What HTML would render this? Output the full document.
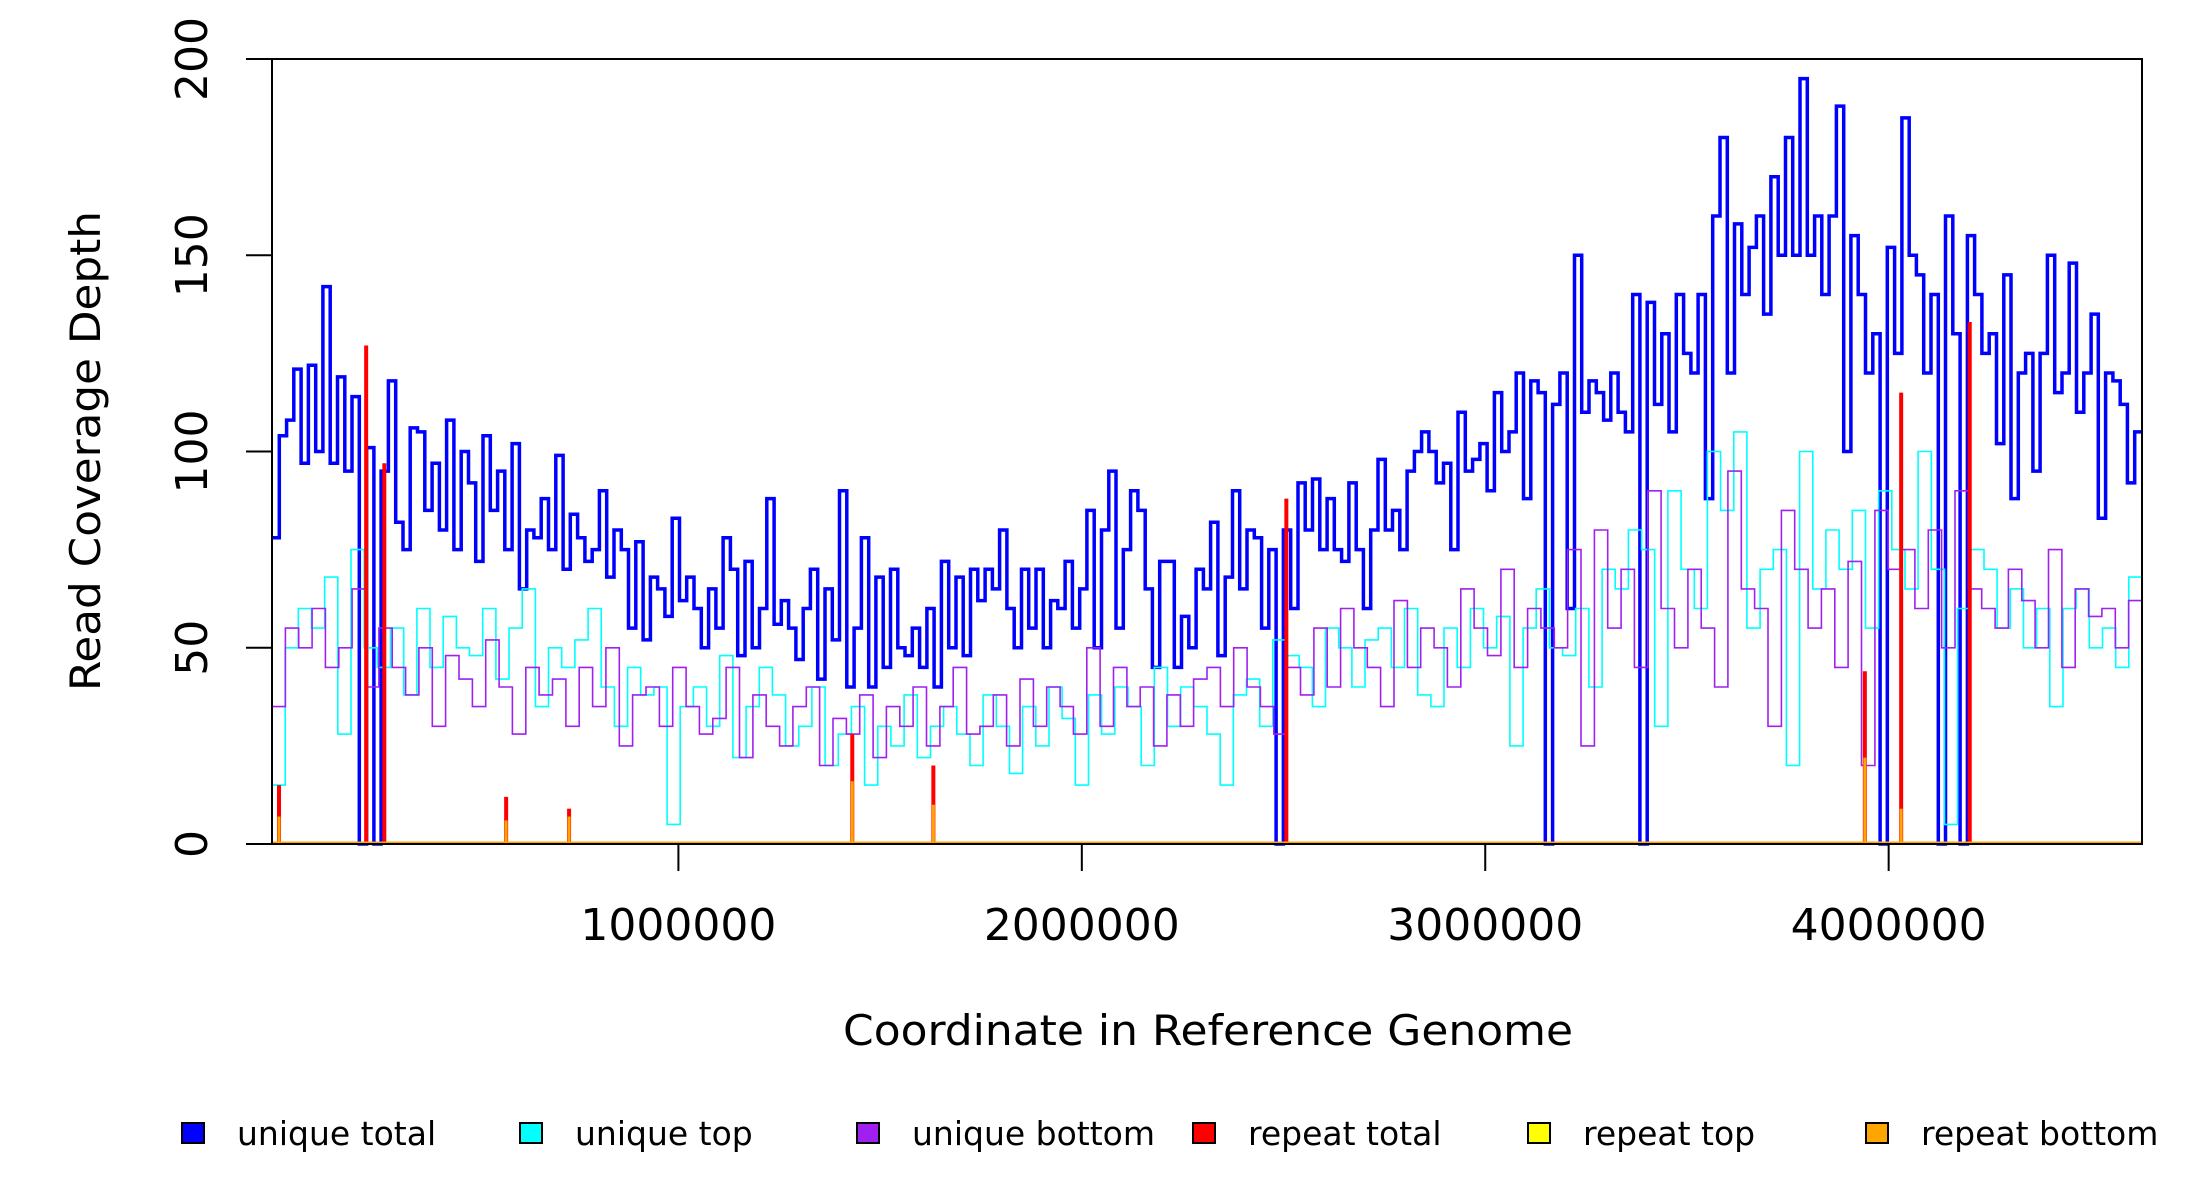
<!DOCTYPE html>
<html><head><meta charset="utf-8"><style>
html,body{margin:0;padding:0;background:#fff;}
svg{display:block;font-family:"DejaVu Sans","Liberation Sans",sans-serif;}
</style></head>
<body>
<svg id="chart" width="2200" height="1200" viewBox="0 0 2200 1200" xmlns="http://www.w3.org/2000/svg">
<rect width="2200" height="1200" fill="#fff"/>
<g id="series"></g>
<rect x="272" y="59" width="1870" height="785" fill="none" stroke="#000" stroke-width="2"/>
<g id="axes"></g>
<text transform="translate(100,451) rotate(-90)" text-anchor="middle" font-size="42" textLength="480" lengthAdjust="spacingAndGlyphs">Read Coverage Depth</text>
<text x="1208" y="1045" text-anchor="middle" font-size="42" textLength="730" lengthAdjust="spacingAndGlyphs">Coordinate in Reference Genome</text>
<g id="legend"></g>
</svg>
<script>
const genomeLen = 4650000;
const yTicks = [0, 50, 100, 150, 200];
const xTicks = [1000000, 2000000, 3000000, 4000000];
const xTickLabels = ["1000000", "2000000", "3000000", "4000000"];
const uniqueTotal = [78,104,108,121,97,122,100,142,97,119,95,114,0,101,0,95,118,82,75,106,105,85,97,80,108,75,100,92,72,104,85,95,75,102,65,80,78,88,75,99,70,84,78,72,75,90,68,80,75,55,77,52,68,65,58,83,62,68,60,50,65,55,78,70,48,72,50,60,88,56,62,55,47,60,70,42,65,52,90,40,55,78,40,68,45,70,50,48,55,45,60,40,72,50,68,48,70,62,70,65,80,60,50,70,55,70,50,62,60,72,55,65,85,50,80,95,55,75,90,85,65,45,72,72,45,58,50,70,65,82,48,68,90,65,80,78,55,75,0,80,60,92,80,93,75,88,75,72,92,75,60,80,98,80,85,75,95,100,105,100,92,97,75,110,95,98,102,90,115,100,105,120,88,118,115,0,112,120,60,150,110,118,115,108,120,110,105,140,0,138,112,130,105,140,125,120,140,88,160,180,120,158,140,152,160,135,170,150,180,150,195,150,160,140,160,188,100,155,140,120,130,0,152,125,185,150,145,120,140,0,160,130,0,155,140,125,130,102,145,88,120,125,95,125,150,115,120,148,110,120,135,83,120,118,112,92,105];
const uniqueTop = [15,50,60,55,68,28,75,50,45,55,38,60,45,58,50,48,60,42,55,65,35,50,45,52,60,40,30,45,38,40,5,35,40,30,48,22,35,45,38,25,30,40,20,28,35,15,30,25,38,22,30,35,28,20,38,30,18,35,25,40,32,15,38,28,40,35,20,45,30,40,35,28,15,38,42,30,52,48,45,35,55,50,40,52,55,45,60,38,35,55,45,60,50,58,25,55,65,50,48,60,40,70,65,80,75,30,90,70,60,100,85,105,55,70,75,20,100,65,80,70,85,55,90,75,65,100,70,5,60,75,70,55,65,50,60,35,60,65,50,55,45,68];
const uniqueBottom = [35,55,50,60,45,50,65,40,55,45,38,50,30,48,42,35,52,40,28,45,38,42,30,45,35,50,25,38,40,30,45,35,28,32,45,22,38,30,25,35,40,20,32,28,38,22,35,30,40,25,35,45,28,30,38,25,42,30,40,35,28,50,30,45,35,40,25,38,30,42,45,35,50,40,35,28,45,38,55,40,60,50,45,35,62,45,55,50,40,65,55,48,70,45,60,55,50,75,25,80,55,70,45,90,60,50,70,55,40,95,65,60,30,85,70,55,65,45,72,20,85,70,75,60,80,50,90,65,60,55,70,62,50,75,45,65,58,60,50,62];
const repeatPos = [10000, 226000, 271000, 573000, 729000, 1431000, 1632000, 2507000, 3941000, 4031000, 4201000];
const repeatTotal = [15, 127, 97, 12, 9, 28, 20, 88, 44, 115, 133];
const repeatBottom = [7, 0, 0, 6, 7, 16, 10, 0, 22, 9, 0];

const L=272,R=2142,T=59,B=844;
const xMin=-7400, xMax=4628000;
function X(v){return L+(v-xMin)/(xMax-xMin)*(R-L);}
function Y(v){return B-v/200*(B-T);}
const NS='http://www.w3.org/2000/svg';
function mk(tag,parent){const e=document.createElementNS(NS,tag);parent.appendChild(e);return e;}
const sg=document.getElementById('series');
function stepPath(vals){
  const w=(xMax-xMin)/vals.length;let d='';
  vals.forEach((v,i)=>{const x0=X(xMin+i*w),x1=X(xMin+(i+1)*w),y=Y(v);
    d+=(i===0?'M'+x0.toFixed(1)+' '+y.toFixed(1):' V'+y.toFixed(1))+' H'+x1.toFixed(1);});
  return d;
}
function stepLine(vals,color,w,name){
  const p=mk('path',sg);
  
  
  p.setAttribute('d',stepPath(vals));p.setAttribute('fill','none');
  p.setAttribute('stroke',color);p.setAttribute('stroke-width',w);
}
stepLine(uniqueTotal,'#0000ff',3.5,'unique-total-line');
stepLine(uniqueTop,'#00ffff',1.6,'unique-top-line');
stepLine(uniqueBottom,'#a020f0',1.6,'unique-bottom-line');
function spikes(vals,color,w,name){
  vals.forEach((v,i)=>{ if(v<=0) return;
    const l=mk('line',sg);
    
    
    const x=X(repeatPos[i]);
    l.setAttribute('x1',x);l.setAttribute('x2',x);l.setAttribute('y1',Y(0));l.setAttribute('y2',Y(v));
    l.setAttribute('stroke',color);l.setAttribute('stroke-width',w);
  });
}
spikes(repeatTotal,'#ff0000',4,'repeat-total-spike');
spikes(repeatBottom,'#ffa500',3,'repeat-bottom-spike');
const base=mk('line',sg);


base.setAttribute('x1',L);base.setAttribute('x2',R);base.setAttribute('y1',B-1);base.setAttribute('y2',B-1);
base.setAttribute('stroke','#ffa500');base.setAttribute('stroke-width',3);

const ag=document.getElementById('axes');
yTicks.forEach(v=>{
  const t=mk('line',ag);
  
  
  t.setAttribute('x1',246);t.setAttribute('x2',L);t.setAttribute('y1',Y(v));t.setAttribute('y2',Y(v));
  t.setAttribute('stroke','#000');t.setAttribute('stroke-width',2);
  const tx=mk('text',ag);
  
  
  tx.setAttribute('transform','translate(207,'+Y(v)+') rotate(-90)');
  tx.setAttribute('text-anchor','middle');tx.setAttribute('font-size','44');
  tx.textContent=String(v);
});
xTicks.forEach((v,i)=>{
  const t=mk('line',ag);
  
  
  t.setAttribute('x1',X(v));t.setAttribute('x2',X(v));t.setAttribute('y1',B);t.setAttribute('y2',B+27);
  t.setAttribute('stroke','#000');t.setAttribute('stroke-width',2);
  const tx=mk('text',ag);
  
  
  tx.setAttribute('x',X(v));tx.setAttribute('y',940);
  tx.setAttribute('text-anchor','middle');tx.setAttribute('font-size','44');
  tx.setAttribute('textLength','196');tx.setAttribute('lengthAdjust','spacingAndGlyphs');
  tx.textContent=xTickLabels[i];
});
const legendNames=['unique total','unique top','unique bottom','repeat total','repeat top','repeat bottom'];
const legendColors=['#0000ff','#00ffff','#a020f0','#ff0000','#ffff00','#ffa500'];
const legendX=[182,520,857,1193,1528,1866];
const lg=document.getElementById('legend');
legendNames.forEach((n,i)=>{
  const g=mk('g',lg);
  
  
  const r=mk('rect',g);
  
  
  r.setAttribute('x',legendX[i]);r.setAttribute('y',1123);r.setAttribute('width',22);r.setAttribute('height',20);
  r.setAttribute('fill',legendColors[i]);r.setAttribute('stroke','#000');r.setAttribute('stroke-width',2);
  const t=mk('text',g);
  
  
  t.setAttribute('x',legendX[i]+55);t.setAttribute('y',1145);t.setAttribute('font-size','33');
  t.textContent=n;
});
</script>
</body></html>
